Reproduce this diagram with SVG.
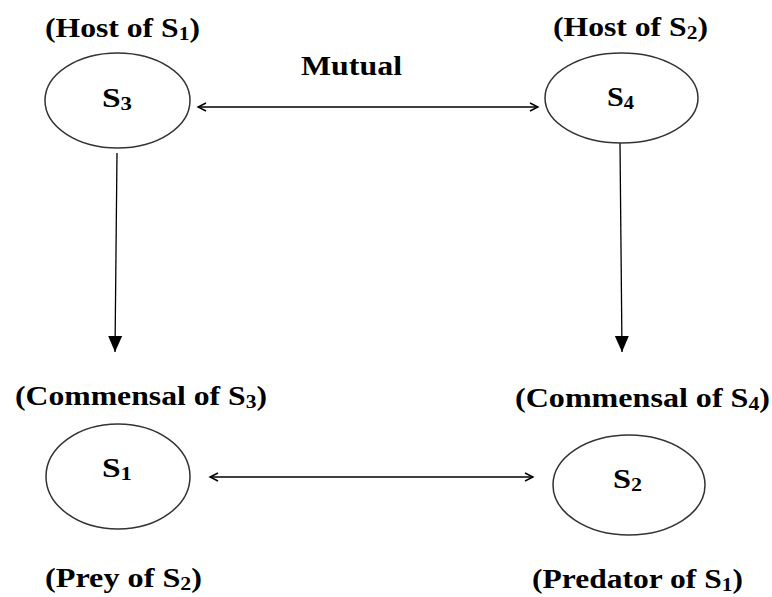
<svg xmlns="http://www.w3.org/2000/svg" width="772" height="597" viewBox="0 0 772 597">
<defs>
<style>
.t{font-family:"Liberation Serif","Times New Roman",serif;font-weight:bold;font-size:28px;fill:#000}
.sub{font-size:19px}
.node{fill:#fff;stroke:#333;stroke-width:1.5}
.c{stroke:#000;stroke-width:1.3;fill:none}
</style>
<marker id="open" viewBox="-10 -6 12 12" markerWidth="12" markerHeight="12" refX="0" refY="0" orient="auto-start-reverse" markerUnits="userSpaceOnUse">
<path d="M-8,-4 L0,0 L-8,4" fill="none" stroke="#000" stroke-width="1.4"/>
</marker>
<marker id="fill" viewBox="-16 -8 17 16" markerWidth="17" markerHeight="16" refX="0" refY="0" orient="auto" markerUnits="userSpaceOnUse">
<path d="M-16,-7 L0,0 L-16,7 Z" fill="#000"/>
</marker>
</defs>
<rect width="772" height="597" fill="#fff"/>
<g id="connectors">
<line class="c" x1="198" y1="107" x2="538" y2="107" marker-start="url(#open)" marker-end="url(#open)"/>
<line class="c" x1="210" y1="477" x2="533" y2="477" marker-start="url(#open)" marker-end="url(#open)"/>
<line class="c" x1="117" y1="153" x2="115" y2="352" marker-end="url(#fill)"/>
<line class="c" x1="620" y1="143" x2="622" y2="352" marker-end="url(#fill)"/>
<text class="t" x="301" y="75" textLength="101" lengthAdjust="spacingAndGlyphs">Mutual</text>
</g>
<g id="S3">
<text class="t" x="45" y="37" textLength="155" lengthAdjust="spacingAndGlyphs">(Host of S<tspan class="sub" dy="3">1</tspan><tspan dy="-3">)</tspan></text>
<ellipse class="node" cx="117.5" cy="100.5" rx="72.5" ry="47.5"/>
<text class="t" x="102" y="107" textLength="30" lengthAdjust="spacingAndGlyphs">S<tspan class="sub" dy="3">3</tspan></text>
</g>
<g id="S4">
<text class="t" x="553" y="36" textLength="155" lengthAdjust="spacingAndGlyphs">(Host of S<tspan class="sub" dy="3">2</tspan><tspan dy="-3">)</tspan></text>
<ellipse class="node" cx="621.5" cy="98" rx="76.5" ry="45"/>
<text class="t" x="607" y="106" textLength="27" lengthAdjust="spacingAndGlyphs">S<tspan class="sub" dy="3">4</tspan></text>
</g>
<g id="S1">
<text class="t" x="15" y="405" textLength="252" lengthAdjust="spacingAndGlyphs">(Commensal of S<tspan class="sub" dy="3">3</tspan><tspan dy="-3">)</tspan></text>
<ellipse class="node" cx="118" cy="476.5" rx="72" ry="52.5"/>
<text class="t" x="102" y="477" textLength="30" lengthAdjust="spacingAndGlyphs">S<tspan class="sub" dy="3">1</tspan></text>
<text class="t" x="45" y="587" textLength="157" lengthAdjust="spacingAndGlyphs">(Prey of S<tspan class="sub" dy="3">2</tspan><tspan dy="-3">)</tspan></text>
</g>
<g id="S2">
<text class="t" x="515" y="407" textLength="255" lengthAdjust="spacingAndGlyphs">(Commensal of S<tspan class="sub" dy="3">4</tspan><tspan dy="-3">)</tspan></text>
<ellipse class="node" cx="629" cy="485" rx="76" ry="50"/>
<text class="t" x="613" y="488" textLength="29" lengthAdjust="spacingAndGlyphs">S<tspan class="sub" dy="3">2</tspan></text>
<text class="t" x="532" y="588" textLength="211" lengthAdjust="spacingAndGlyphs">(Predator of S<tspan class="sub" dy="3">1</tspan><tspan dy="-3">)</tspan></text>
</g>
</svg>
